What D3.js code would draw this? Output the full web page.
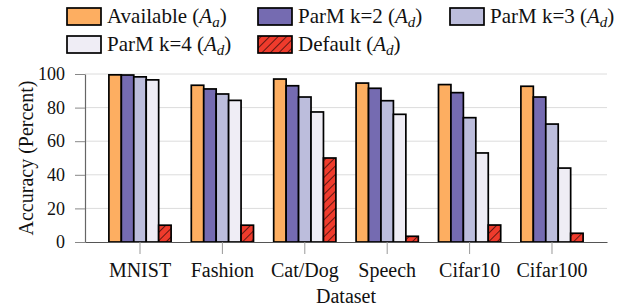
<!DOCTYPE html>
<html><head><meta charset="utf-8">
<script src="https://cdn.jsdelivr.net/npm/d3@7"></script>
<style>body{margin:0;background:#fff}svg{display:block}text{font-family:"Liberation Serif","DejaVu Serif",serif;fill:#111}</style>
</head><body><svg id="c" width="621" height="306"></svg>
<script>
const categories = ["MNIST","Fashion","Cat/Dog","Speech","Cifar10","Cifar100"];
const seriesNames = ["Available","ParM k=2","ParM k=3","ParM k=4","Default"];
const seriesSubs = ["a","d","d","d","d"];
const available = [99.5,93.3,97.0,94.6,93.7,92.7];
const parmK2 = [99.4,91.1,93.0,91.5,88.9,86.3];
const parmK3 = [98.3,88.1,86.3,84.1,74.0,70.2];
const parmK4 = [96.5,84.3,77.4,76.0,53.0,44.0];
const defaultAcc = [10.0,10.0,50.0,3.4,10.1,5.2];
const yTicks = [0,20,40,60,80,100];
const colors = ["#fdae61","#756bb1","#bcbddc","#efedf5","#ef3b2c"];
const seriesVals = [available,parmK2,parmK3,parmK4,defaultAcc];

const svg = d3.select("#c");
const defs = svg.append("defs");
const pat = defs.append("pattern").attr("id","hatch").attr("patternUnits","userSpaceOnUse")
  .attr("width",6).attr("height",6).attr("patternTransform","rotate(45)");
pat.append("rect").attr("width",6).attr("height",6).attr("fill",colors[4]);
pat.append("line").attr("x1",0).attr("y1",0).attr("x2",0).attr("y2",6).attr("stroke","#000").attr("stroke-width",1.2);

const L=85,R=607,T=74,B=242;
const x = d3.scaleBand().domain(categories).range([L,R]).paddingInner(0.245).paddingOuter(0.29);
const xs = d3.scaleBand().domain(d3.range(5)).range([0,x.bandwidth()]);
const y = d3.scaleLinear().domain([0,100]).range([B,T]);

// grid
svg.append("g").selectAll("line").data(yTicks.slice(1)).join("line")
  .attr("x1",L).attr("x2",R).attr("y1",d=>y(d)).attr("y2",d=>y(d))
  .attr("stroke","#dcdcdc").attr("stroke-width",1);

// bars
const g = svg.append("g");
seriesVals.forEach((vals,si)=>{
  g.selectAll(null).data(vals).join("rect")
    .attr("x",(d,i)=>x(categories[i])+xs(si))
    .attr("y",d=>y(d))
    .attr("width",xs.bandwidth())
    .attr("height",d=>B-y(d))
    .attr("fill",si===4?"url(#hatch)":colors[si])
    .attr("stroke","#000").attr("stroke-width",1.7);
});

// axes
const yAx = svg.append("g").attr("transform",`translate(${L},0)`)
  .call(d3.axisLeft(y).tickValues(yTicks).tickSize(10).tickPadding(10).tickSizeOuter(0));
yAx.select(".domain").attr("stroke","#666").attr("stroke-width",1.2);
yAx.selectAll(".tick line").attr("stroke","#888");
yAx.selectAll("text").attr("font-size",18).attr("font-family","Liberation Serif").attr("fill","#111");

const xAx = svg.append("g").attr("transform",`translate(0,${B})`)
  .call(d3.axisBottom(x).tickSize(12).tickSizeOuter(0));
xAx.select(".domain").attr("stroke","#555").attr("stroke-width",1.2);
xAx.selectAll(".tick line").attr("stroke","#999");
xAx.selectAll("text").attr("font-size",20).attr("font-family","Liberation Serif").attr("fill","#111")
  .attr("y",35).attr("dy",0);

svg.append("text").attr("transform","translate(33,158) rotate(-90)")
  .attr("text-anchor","middle").attr("font-size",20).text("Accuracy (Percent)");
svg.append("text").attr("x",(L+R)/2).attr("y",303).attr("text-anchor","middle")
  .attr("font-size",20).text("Dataset");

// legend
const legPos = [[67,16],[258,16],[450,16],[67,44],[258,44]];
seriesNames.forEach((n,i)=>{
  const [lx,ly]=legPos[i];
  svg.append("rect").attr("x",lx).attr("y",ly-8).attr("width",34).attr("height",17)
    .attr("fill",i===4?"url(#hatch)":colors[i]).attr("stroke","#000").attr("stroke-width",1.7);
  const t = svg.append("text").attr("x",lx+40).attr("y",ly+7).attr("font-size",21);
  t.append("tspan").text(n+" (");
  t.append("tspan").attr("font-style","italic").text("A");
  t.append("tspan").attr("font-style","italic").attr("font-size",15).attr("dy",4).text(seriesSubs[i]);
  t.append("tspan").attr("dy",-4).text(")");
});
</script></body></html>
